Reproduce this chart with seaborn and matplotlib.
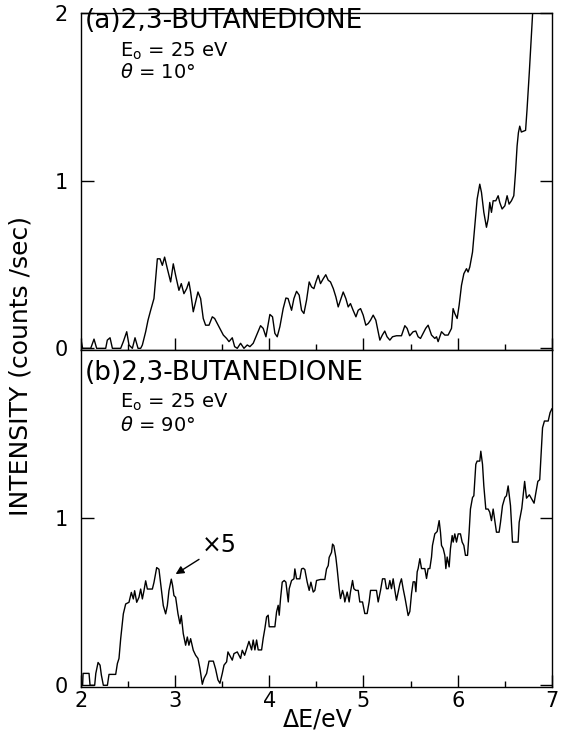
import numpy as np
import pandas as pd
import matplotlib
matplotlib.use("Agg")
import matplotlib.pyplot as plt
import seaborn as sns

# ---- data (energy loss in eV, intensity in counts/sec) ----
a_energy = [2.0, 2.02, 2.106, 2.141, 2.169, 2.265, 2.282, 2.311, 2.336, 2.424, 2.452, 2.488, 2.512, 2.548,
            2.576, 2.608, 2.636, 2.654, 2.689, 2.714, 2.742, 2.777, 2.813, 2.841, 2.866, 2.89, 2.919, 2.954,
            2.982, 3.007, 3.042, 3.067, 3.095, 3.124, 3.148, 3.166, 3.194, 3.219, 3.244, 3.272, 3.3, 3.325,
            3.361, 3.396, 3.421, 3.449, 3.477, 3.513, 3.548, 3.573, 3.608, 3.633, 3.661, 3.696, 3.732, 3.767,
            3.795, 3.83, 3.866, 3.908, 3.936, 3.965, 3.99, 4.007, 4.035, 4.06, 4.085, 4.113, 4.148, 4.177,
            4.2, 4.237, 4.262, 4.29, 4.318, 4.343, 4.368, 4.396, 4.424, 4.449, 4.474, 4.495, 4.52, 4.544,
            4.573, 4.6, 4.626, 4.65, 4.68, 4.707, 4.732, 4.756, 4.785, 4.813, 4.838, 4.862, 4.89, 4.92,
            4.944, 4.969, 4.997, 5.025, 5.05, 5.075, 5.103, 5.131, 5.156, 5.174, 5.2, 5.226, 5.25, 5.28,
            5.308, 5.35, 5.403, 5.439, 5.463, 5.49, 5.527, 5.555, 5.58, 5.605, 5.633, 5.66, 5.686,
            5.722, 5.757, 5.775, 5.792, 5.828, 5.863, 5.898, 5.934, 5.951, 5.969, 5.994, 6.015, 6.04, 6.065,
            6.093, 6.11, 6.128, 6.157, 6.181, 6.206, 6.234, 6.252, 6.277, 6.305, 6.323, 6.34, 6.358, 6.376,
            6.404, 6.429, 6.446, 6.471, 6.5, 6.524, 6.545, 6.57, 6.595, 6.613, 6.63, 6.644, 6.658, 6.675,
            6.72, 6.735, 6.76, 6.785, 6.80]
a_intensity = [0.06, 0.0, 0.0, 0.055, 0.0, 0.0, 0.049, 0.063, 0.0, 0.0, 0.04, 0.099, 0.02, 0.0,
               0.063, 0.0, 0.0, 0.02, 0.099, 0.168, 0.227, 0.297, 0.534, 0.534, 0.495, 0.544, 0.475, 0.396,
               0.504, 0.435, 0.346, 0.386, 0.326, 0.356, 0.396, 0.336, 0.218, 0.277, 0.336, 0.297, 0.178, 0.138,
               0.138, 0.188, 0.178, 0.148, 0.119, 0.079, 0.059, 0.04, 0.063, 0.01, 0.0, 0.03, 0.0, 0.02,
               0.01, 0.03, 0.079, 0.135, 0.119, 0.069, 0.148, 0.202, 0.188, 0.089, 0.069, 0.129, 0.237, 0.30,
               0.297, 0.227, 0.297, 0.34, 0.317, 0.227, 0.208, 0.287, 0.396, 0.366, 0.356, 0.396, 0.435, 0.386,
               0.415, 0.439, 0.406, 0.396, 0.356, 0.307, 0.247, 0.287, 0.336, 0.297, 0.247, 0.267, 0.227, 0.188,
               0.227, 0.237, 0.198, 0.138, 0.148, 0.168, 0.198, 0.168, 0.099, 0.049, 0.079, 0.103, 0.069, 0.049,
               0.069, 0.075, 0.075, 0.135, 0.119, 0.075, 0.099, 0.103, 0.069, 0.059, 0.089, 0.119, 0.138,
               0.079, 0.059, 0.069, 0.04, 0.099, 0.079, 0.079, 0.119, 0.237, 0.208, 0.178, 0.257, 0.376, 0.445,
               0.475, 0.455, 0.485, 0.574, 0.732, 0.89, 0.979, 0.93, 0.811, 0.722, 0.772, 0.87, 0.811, 0.88,
               0.88, 0.91, 0.87, 0.831, 0.85, 0.91, 0.86, 0.88, 0.91, 1.048, 1.207, 1.286, 1.325, 1.29,
               1.30, 1.42, 1.65, 1.90, 2.05]

b_energy = [2.0, 2.02, 2.025, 2.088, 2.099, 2.148, 2.16, 2.184, 2.205, 2.219, 2.24, 2.283, 2.3, 2.371,
            2.389, 2.406, 2.424, 2.452, 2.477, 2.512, 2.537, 2.558, 2.572, 2.594, 2.618, 2.636, 2.654, 2.671,
            2.689, 2.707, 2.76, 2.777, 2.806, 2.83, 2.855, 2.876, 2.901, 2.919, 2.936, 2.961, 2.975, 2.989,
            3.007, 3.032, 3.053, 3.067, 3.088, 3.113, 3.131, 3.148, 3.166, 3.194, 3.219, 3.244, 3.265, 3.29,
            3.308, 3.336, 3.361, 3.407, 3.431, 3.456, 3.477, 3.502, 3.52, 3.548, 3.562, 3.59, 3.608, 3.626,
            3.661, 3.696, 3.714, 3.739, 3.767, 3.785,
            3.813, 3.83, 3.848, 3.866, 3.883, 3.919, 3.936, 3.954, 3.972, 3.989, 4.0, 4.06, 4.078, 4.095,
            4.106, 4.12, 4.138, 4.159, 4.177, 4.191, 4.202, 4.212, 4.237, 4.262, 4.272, 4.29, 4.325, 4.343,
            4.361, 4.378, 4.403, 4.424, 4.442, 4.467, 4.484, 4.502, 4.544, 4.59, 4.608, 4.626, 4.636, 4.661,
            4.672, 4.686, 4.707, 4.721, 4.742, 4.756, 4.778, 4.792, 4.802, 4.827, 4.848, 4.862, 4.884, 4.898,
            4.919, 4.944, 4.961, 4.99, 5.014, 5.039, 5.06, 5.075, 5.11, 5.138, 5.156, 5.181, 5.202, 5.227,
            5.244, 5.262, 5.28, 5.297, 5.315, 5.333, 5.35, 5.368, 5.386, 5.403, 5.421, 5.442,
            5.457, 5.474, 5.492, 5.51, 5.527, 5.545, 5.556, 5.57, 5.58, 5.598, 5.616, 5.651, 5.669, 5.686,
            5.704, 5.722, 5.732, 5.757, 5.782, 5.803, 5.817, 5.828, 5.846, 5.863, 5.874, 5.888, 5.909, 5.923,
            5.941, 5.952, 5.969, 5.987, 6.005, 6.029, 6.047, 6.065, 6.082, 6.104, 6.121, 6.135, 6.157, 6.171,
            6.192, 6.206, 6.234, 6.245, 6.263, 6.277, 6.298, 6.323, 6.34, 6.358, 6.376, 6.393, 6.411, 6.439,
            6.454, 6.475, 6.5, 6.517, 6.535, 6.545, 6.56, 6.581, 6.606, 6.641, 6.652, 6.68, 6.71, 6.73,
            6.76, 6.81, 6.85, 6.87, 6.90, 6.92, 6.96, 6.98, 7.0]
b_intensity = [0.0, 0.0, 0.071, 0.071, 0.0, 0.0, 0.071, 0.136, 0.12, 0.061, 0.0, 0.0, 0.065, 0.065,
               0.13, 0.16, 0.278, 0.426, 0.485, 0.495, 0.554, 0.515, 0.564, 0.495, 0.525, 0.574, 0.515, 0.564,
               0.623, 0.574, 0.574, 0.613, 0.702, 0.692, 0.574, 0.475, 0.426, 0.475, 0.564, 0.633, 0.594, 0.535,
               0.525, 0.426, 0.367, 0.416, 0.308, 0.239, 0.288, 0.239, 0.278, 0.209, 0.179, 0.16, 0.10, 0.006,
               0.041, 0.071, 0.144, 0.144, 0.097, 0.032, 0.012, 0.071, 0.12, 0.14, 0.199, 0.17, 0.15, 0.189,
               0.199, 0.16, 0.209, 0.179, 0.229, 0.262,
               0.211, 0.27, 0.211, 0.27, 0.211, 0.211, 0.28, 0.339, 0.408, 0.418, 0.349, 0.349, 0.438, 0.477,
               0.418, 0.517, 0.615, 0.625, 0.615, 0.546, 0.497, 0.576, 0.625, 0.635, 0.694, 0.635, 0.635, 0.694,
               0.698, 0.69, 0.615, 0.566, 0.615, 0.556, 0.566, 0.625, 0.631, 0.631, 0.694, 0.714, 0.763, 0.793,
               0.842, 0.832, 0.763, 0.694, 0.576, 0.517, 0.566, 0.536, 0.497, 0.556, 0.497, 0.556, 0.625, 0.576,
               0.566, 0.566, 0.497, 0.497, 0.428, 0.428, 0.497, 0.566, 0.566, 0.566, 0.497, 0.566, 0.635, 0.635,
               0.576, 0.576, 0.625, 0.576, 0.635, 0.566, 0.507, 0.556, 0.605, 0.635, 0.576, 0.517,
               0.469, 0.416, 0.44, 0.548, 0.617, 0.617, 0.558, 0.677, 0.696, 0.755, 0.696, 0.696, 0.637, 0.696,
               0.696, 0.765, 0.834, 0.903, 0.917, 0.982, 0.913, 0.834, 0.815, 0.775, 0.696, 0.765, 0.706, 0.815,
               0.893, 0.854, 0.903, 0.854, 0.903, 0.903, 0.854, 0.834, 0.775, 0.775, 0.913, 1.051, 1.12, 1.13,
               1.318, 1.337, 1.337, 1.396, 1.318, 1.189, 1.051, 1.051, 1.032, 0.982, 1.051, 0.982, 0.913, 0.913,
               0.972, 1.071, 1.12, 1.13, 1.189, 1.14, 1.071, 0.854, 0.854, 0.854, 0.972, 1.056, 1.216, 1.116,
               1.136, 1.086, 1.216, 1.226, 1.536, 1.576, 1.576, 1.626, 1.65]

x_ticks = [2, 3, 4, 5, 6, 7]
x_tick_labels = ["2", "3", "4", "5", "6", "7"]
a_y_ticks = [0, 1, 2]
b_y_ticks = [0, 1]

panel_titles = ["(a)2,3-BUTANEDIONE", "(b)2,3-BUTANEDIONE"]
energy_text = "E$_\\mathregular{o}$ = 25 eV"
angle_texts = ["$\\theta$ = 10°", "$\\theta$ = 90°"]

# ---- style ----
sns.set_theme(style="ticks")
plt.rcParams["font.family"] = ["DejaVu Sans"]
plt.rcParams["mathtext.fontset"] = "dejavusans"
plt.rcParams["text.color"] = "black"
plt.rcParams["axes.labelcolor"] = "black"

fig = plt.figure(figsize=(5.61, 7.33), dpi=100)
ax_a = fig.add_axes([0.1439, 0.5225, 0.840, 0.4598])
ax_b = fig.add_axes([0.1439, 0.0628, 0.840, 0.4598])

df_a = pd.DataFrame({"energy": a_energy, "intensity": a_intensity})
df_b = pd.DataFrame({"energy": b_energy, "intensity": b_intensity})

sns.lineplot(data=df_a, x="energy", y="intensity", ax=ax_a, color="black",
             linewidth=1.0, estimator=None, sort=False)
sns.lineplot(data=df_b, x="energy", y="intensity", ax=ax_b, color="black",
             linewidth=1.0, estimator=None, sort=False)

for ax, yt in ((ax_a, a_y_ticks), (ax_b, b_y_ticks)):
    ax.set_xlim(2, 7)
    ax.set_ylim(-0.01, 2.0)
    ax.set_xticks(x_ticks)
    ax.set_xticks(np.arange(2.5, 7, 1.0), minor=True)
    ax.set_yticks(yt)
    ax.set_yticklabels([str(v) for v in yt])
    ax.set_xlabel("")
    ax.set_ylabel("")
    for sp in ax.spines.values():
        sp.set_visible(True)
        sp.set_linewidth(1.0)
        sp.set_color("black")
    ax.tick_params(axis="both", which="both", direction="in", colors="black",
                   left=True, right=True, top=False, bottom=True, width=1.0)
    ax.tick_params(axis="x", which="major", length=8.5)
    ax.tick_params(axis="x", which="minor", length=4.0)
    ax.tick_params(axis="y", which="major", length=9, pad=9, labelsize=15)
    ax.set_facecolor("white")

ax_a.tick_params(axis="x", labelbottom=False)
ax_b.set_xticklabels(x_tick_labels)
ax_b.tick_params(axis="x", which="major", labelsize=15, pad=3)

# panel texts
title_y = [0.954, 0.911]
e_y = [0.869, 0.828]
th_y = [0.808, 0.758]
for i, ax in enumerate((ax_a, ax_b)):
    ax.text(0.009, title_y[i], panel_titles[i], transform=ax.transAxes,
            fontsize=19, va="baseline", ha="left")
    ax.text(0.083, e_y[i], energy_text, transform=ax.transAxes,
            fontsize=14, va="baseline", ha="left")
    ax.text(0.083, th_y[i], angle_texts[i], transform=ax.transAxes,
            fontsize=14, va="baseline", ha="left")

# x5 annotation in panel b
ax_b.annotate("", xy=(3.007, 0.663), xytext=(3.255, 0.751),
              arrowprops=dict(arrowstyle="-|>", color="black", lw=1.0, mutation_scale=12,
                              shrinkA=0, shrinkB=0))
ax_b.text(3.28, 0.834, "×5", fontsize=17, va="center", ha="left")

fig.text(0.036, 0.5, "INTENSITY (counts /sec)", rotation=90, va="center", ha="center", fontsize=18)
fig.text(0.566, 0.019, "ΔE/eV", va="center", ha="center", fontsize=17)

fig.savefig("out.png", dpi=100, facecolor="white")
